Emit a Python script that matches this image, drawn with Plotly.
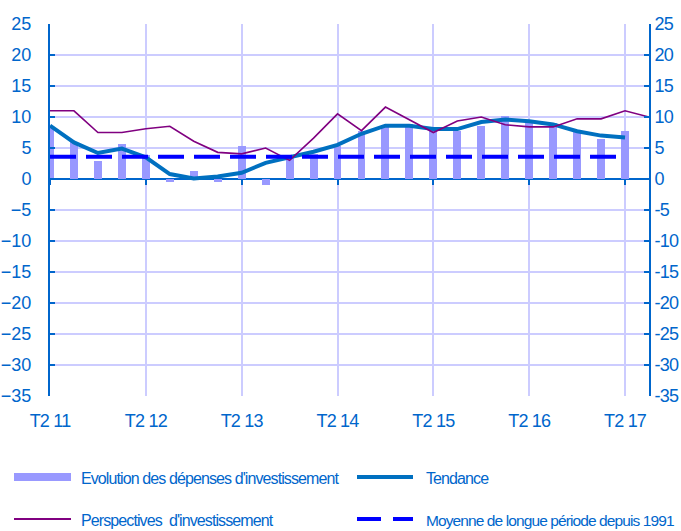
import plotly.graph_objects as go

quarters = ["T2 11", "T3 11", "T4 11", "T1 12", "T2 12", "T3 12", "T4 12", "T1 13",
            "T2 13", "T3 13", "T4 13", "T1 14", "T2 14", "T3 14", "T4 14", "T1 15",
            "T2 15", "T3 15", "T4 15", "T1 16", "T2 16", "T3 16", "T4 16", "T1 17",
            "T2 17", "T3 17"]

depenses = [8.6, 5.9, 2.9, 5.7, 3.9, -0.5, 1.35, -0.5, 5.4, -0.9, 3.6, 4.0, 5.3,
            7.7, 8.6, 8.8, 8.2, 7.7, 8.5, 10.1, 9.35, 9.1, 7.7, 6.4, 7.7]

tendance = [8.6, 5.9, 4.2, 4.9, 3.5, 0.8, 0.1, 0.4, 1.0, 2.6, 3.5, 4.4, 5.5,
            7.3, 8.6, 8.6, 8.05, 8.05, 9.2, 9.6, 9.3, 8.8, 7.7, 7.0, 6.7]

perspectives = [11.0, 11.0, 7.5, 7.5, 8.1, 8.5, 6.1, 4.3, 4.05, 5.0, 3.0, 6.6, 10.5,
                7.8, 11.6, 9.6, 7.5, 9.35, 10.0, 8.75, 8.4, 8.4, 9.7, 9.7, 11.0, 10.0]

moyenne = 3.6

tick_labels = ["T2 11", "T2 12", "T2 13", "T2 14", "T2 15", "T2 16", "T2 17"]

y_ticks = [25, 20, 15, 10, 5, 0, -5, -10, -15, -20, -25, -30, -35]

legend_names = ["Evolution des dépenses d'investissement", "Tendance",
                "Perspectives  d'investissement", "Moyenne de longue période depuis 1991"]

# ---- styling ----
FONT = "Liberation Sans, Arial, sans-serif"
BLUE_TXT = "#0066cc"
AXIS_BLUE = "#0066cc"
GRID = "#ccccff"
BAR_C = "#9999ff"
TEND_C = "#0070c0"
PERSP_C = "#800080"
MOY_C = "#0000ff"

W, H = 681, 531
ML, MR, MT, MB = 50, 32, 24, 135
PW, PH = W - ML - MR, H - MT - MB

def px(x):
    return (x - ML) / PW

def py(y):
    return (H - MB - y) / PH

def tight(s, sp=-1.0):
    return '<span style="letter-spacing:%.1fpx">%s</span>' % (sp, s)

idx = list(range(len(quarters)))
tick_idx = [quarters.index(t) for t in tick_labels]
n_main = len(depenses)

fig = go.Figure()

fig.add_trace(go.Bar(x=idx[:n_main], y=depenses, marker=dict(color=BAR_C, line=dict(width=0)),
                     width=0.33, name=legend_names[0]))
fig.add_trace(go.Scatter(x=[idx[0], idx[n_main - 1]], y=[moyenne, moyenne], mode="lines",
                         line=dict(color=MOY_C, width=4, dash="26px,10px"),
                         name=legend_names[3], xaxis="x2"))
fig.add_trace(go.Scatter(x=idx[:n_main], y=tendance, mode="lines",
                         line=dict(color=TEND_C, width=4), name=legend_names[1]))
fig.add_trace(go.Scatter(x=idx, y=perspectives, mode="lines",
                         line=dict(color=PERSP_C, width=1.6), name=legend_names[2]))
# invisible trace to anchor right axis
fig.add_trace(go.Scatter(x=[idx[0]], y=[0], yaxis="y2", mode="markers",
                         marker=dict(opacity=0), hoverinfo="skip", showlegend=False))

xrange = [0, len(quarters) - 1]

fig.update_layout(
    width=W, height=H,
    margin=dict(l=ML, r=MR, t=MT, b=MB, autoexpand=False),
    paper_bgcolor="white", plot_bgcolor="white",
    showlegend=False,
    bargap=0,
    font=dict(family=FONT, size=17, color=BLUE_TXT),
    xaxis=dict(range=xrange, tickvals=tick_idx, ticktext=[tight(t, -0.8) for t in tick_labels],
               showgrid=True, gridcolor=GRID, gridwidth=2, automargin=False,
               ticks="outside", ticklen=8, tickcolor="rgba(0,0,0,0)",
               showline=False, zeroline=False,
               tickfont=dict(family=FONT, size=18, color=BLUE_TXT)),
    xaxis2=dict(range=xrange, overlaying="x", anchor="free", position=py(179),
                tickvals=tick_idx, ticks="outside", ticklen=5, tickwidth=2, automargin=False,
                tickcolor=AXIS_BLUE, showticklabels=False, showgrid=False,
                showline=False, zeroline=False),
    yaxis=dict(range=[-35, 25], tickvals=y_ticks, showgrid=True, gridcolor=GRID, gridwidth=2,
               zeroline=True, zerolinecolor=AXIS_BLUE, zerolinewidth=2, automargin=False,
               showline=True, linecolor=AXIS_BLUE, linewidth=2,
               ticks="inside", ticklen=5, tickwidth=2, tickcolor=AXIS_BLUE,
               ticklabelstandoff=13,
               tickfont=dict(family=FONT, size=18, color=BLUE_TXT)),
    yaxis2=dict(range=[-35, 25], tickvals=y_ticks,
                ticktext=[tight(str(v), -0.8) for v in y_ticks],
                overlaying="y", side="right",
                showgrid=False, zeroline=False, automargin=False,
                showline=True, linecolor=AXIS_BLUE, linewidth=2,
                ticks="inside", ticklen=5, tickwidth=2, tickcolor=AXIS_BLUE,
                ticklabelstandoff=0,
                tickfont=dict(family=FONT, size=18, color=BLUE_TXT)),
)

# ---- manual legend ----
shapes = []
annotations = []
row_y = [477, 519]
col_swatch = [(14, 71), (357, 413)]
col_text = [79, 424]
entries = [(0, 0, "bar"), (0, 1, "tend"), (1, 0, "persp"), (1, 1, "moy")]
names_map = {"bar": legend_names[0], "tend": legend_names[1],
             "persp": legend_names[2], "moy": legend_names[3]}
for r, c, kind in entries:
    x0, x1 = col_swatch[c]
    yy = row_y[r]
    if kind == "bar":
        shapes.append(dict(type="rect", xref="paper", yref="paper",
                           x0=px(x0), x1=px(x1), y0=py(yy + 4), y1=py(yy - 4),
                           fillcolor=BAR_C, line=dict(width=0)))
    elif kind == "tend":
        shapes.append(dict(type="line", xref="paper", yref="paper",
                           x0=px(x0), x1=px(x1), y0=py(yy), y1=py(yy),
                           line=dict(color=TEND_C, width=4)))
    elif kind == "persp":
        shapes.append(dict(type="line", xref="paper", yref="paper",
                           x0=px(x0), x1=px(x1), y0=py(yy), y1=py(yy),
                           line=dict(color=PERSP_C, width=2)))
    else:
        shapes.append(dict(type="line", xref="paper", yref="paper",
                           x0=px(x0), x1=px(x1), y0=py(yy), y1=py(yy),
                           line=dict(color=MOY_C, width=4, dash="24px,12px")))
    annotations.append(dict(xref="paper", yref="paper", x=px(col_text[c]), y=py(yy + 1),
                            xanchor="left", yanchor="middle", showarrow=False,
                            text=tight(names_map[kind], -0.9),
                            font=dict(family=FONT, size=16 if kind != "moy" else 15.5,
                                      color=BLUE_TXT)))

fig.update_layout(shapes=shapes, annotations=annotations)

fig.write_html("out.html", config={"displayModeBar": False},
               post_script="document.body.style.margin='0';document.body.style.overflow='hidden';")
